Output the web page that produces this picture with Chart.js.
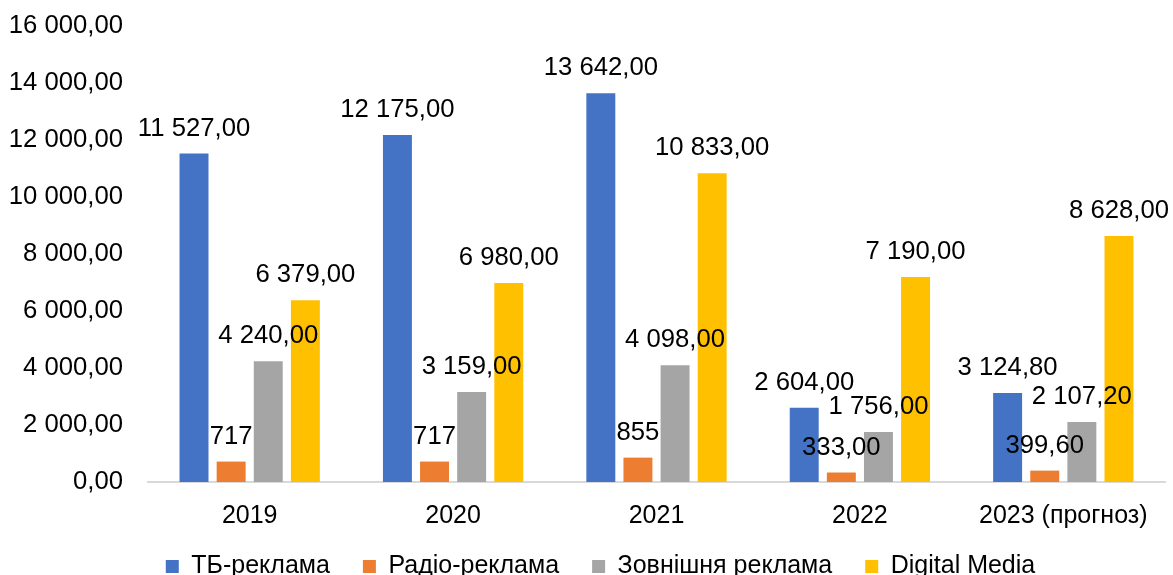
<!DOCTYPE html>
<html>
<head>
<meta charset="utf-8">
<script src="https://cdn.jsdelivr.net/npm/chart.js@4.4.1/dist/chart.umd.min.js"></script>
<style>
  html, body { margin: 0; padding: 0; background: #fff; overflow: hidden; }
  #wrap { width: 1173px; height: 590px; position: relative; }
</style>
</head>
<body>
<div id="wrap"><canvas id="adChart"></canvas></div>
<script>
// Data
const years = ['2019', '2020', '2021', '2022', '2023 (прогноз)'];
const tvAds = [11527, 12175, 13642, 2604, 3124.8];
const radioAds = [717, 717, 855, 333, 399.6];
const outdoorAds = [4240, 3159, 4098, 1756, 2107.2];
const digitalMedia = [6379, 6980, 10833, 7190, 8628];
// how many decimals each label shows (radio 2019-2021 printed as whole numbers)
const radioDecimals = [0, 0, 0, 2, 2];
const yTicks = [0, 2000, 4000, 6000, 8000, 10000, 12000, 14000, 16000];

const FONT = '"Liberation Sans", Arial, sans-serif';

function formatUa(value, decimals) {
    const parts = value.toFixed(decimals).split('.');
    const whole = parts[0].replace(/\B(?=(\d{3})+(?!\d))/g, ' ');
    return parts.length > 1 ? whole + ',' + parts[1] : whole;
}

// simple value labels above bars
const valueLabels = {
    id: 'valueLabels',
    afterDatasetsDraw(chart) {
        const ctx = chart.ctx;
        ctx.save();
        ctx.font = '25.7px ' + FONT;
        ctx.fillStyle = '#000';
        ctx.textAlign = 'center';
        ctx.textBaseline = 'middle';
        chart.data.datasets.forEach((ds, i) => {
            const meta = chart.getDatasetMeta(i);
            meta.data.forEach((bar, j) => {
                const dec = ds.decimals ? ds.decimals[j] : 2;
                ctx.fillText(formatUa(ds.data[j], dec), bar.x, bar.y - 25);
            });
        });
        ctx.restore();
    }
};

// legend sits a bit right of centre and closer to the axis labels in the original
const legendShift = {
    id: 'legendShift',
    afterLayout(chart) {
        const lg = chart.legend;
        const h = lg.height;
        lg.left += 18;
        lg.right += 18;
        lg.top = 521;
        lg.bottom = 521 + h;
    }
};

const ctx = document.getElementById('adChart').getContext('2d');
new Chart(ctx, {
    type: 'bar',
    data: {
        labels: years,
        datasets: [
            { label: 'ТБ-реклама', data: tvAds, backgroundColor: '#4472C4' },
            { label: 'Радіо-реклама', data: radioAds, backgroundColor: '#ED7D31', decimals: radioDecimals },
            { label: 'Зовнішня реклама', data: outdoorAds, backgroundColor: '#A5A5A5' },
            { label: 'Digital Media', data: digitalMedia, backgroundColor: '#FFC000' }
        ]
    },
    options: {
        responsive: true,
        maintainAspectRatio: false,
        animation: false,
        categoryPercentage: 0.73,
        barPercentage: 0.78,
        layout: { padding: { left: 0, right: 8, top: 0, bottom: 0 } },
        plugins: {
            tooltip: { enabled: false },
            legend: {
                position: 'bottom',
                maxHeight: 58,
                labels: {
                    font: { family: FONT, size: 25 },
                    color: '#000',
                    boxWidth: 13,
                    boxHeight: 13,
                    padding: 33
                }
            }
        },
        scales: {
            x: {
                grid: { display: false },
                border: { display: true, color: '#D9D9D9', width: 2 },
                ticks: {
                    color: '#000',
                    font: { family: FONT, size: 25 },
                    padding: 11
                },
                afterFit(scale) { scale.height = 50; }
            },
            y: {
                min: 0,
                max: 16000,
                grid: { display: false },
                border: { display: false },
                afterBuildTicks(scale) {
                    scale.ticks = yTicks.map(v => ({ value: v }));
                },
                afterFit(scale) {
                    scale.width = 148;
                    scale.paddingTop = 26;
                },
                ticks: {
                    color: '#000',
                    padding: 17,
                    font: { family: FONT, size: 25.7 },
                    callback: v => formatUa(v, 2)
                }
            }
        }
    },
    plugins: [valueLabels, legendShift]
});
</script>
</body>
</html>
